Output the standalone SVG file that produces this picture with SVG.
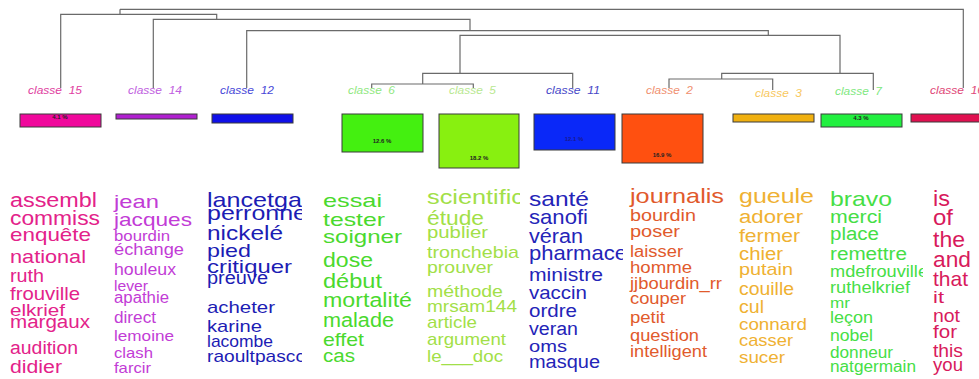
<svg xmlns="http://www.w3.org/2000/svg" width="979" height="379" viewBox="0 0 979 379">
<style>
.lbl{font-family:"Liberation Sans",Arial,sans-serif;font-style:italic;font-size:11px;white-space:pre}
.w text{font-family:"Liberation Sans",Arial,sans-serif}
.bar{stroke:#3a3a3a;stroke-width:1}
.pct{font-family:"Liberation Sans",Arial,sans-serif;font-weight:bold;font-size:6px;fill:#222;text-anchor:middle}
.den{stroke:#6a6a6a;stroke-width:1.2;fill:none}
</style>
<defs>
<clipPath id="c3"><rect x="200" y="180" width="102" height="199"/></clipPath>
<clipPath id="c5"><rect x="420" y="180" width="100" height="199"/></clipPath>
<clipPath id="c6"><rect x="525" y="180" width="98" height="199"/></clipPath>
<clipPath id="c9"><rect x="825" y="180" width="98" height="199"/></clipPath>
</defs>
<rect width="979" height="379" fill="#fff"/>
<g id="connectors" class="den">
<path d="M120,9.3H963.3V88"/>
<path d="M120,9.3V14.3"/>
<path d="M60.7,88V14.3H216.7V19.3"/>
<path d="M153.3,88V19.3H470V30.7"/>
<path d="M246.7,88V30.7H768.3V35.3"/>
<path d="M460,73.3V35.3H840V73.3"/>
<path d="M422.7,84V73.3H572.7V88"/>
<path d="M371.7,88V84H473.3V88"/>
<path d="M721.7,79V73.3H873.3V90"/>
<path d="M669,88V79H772.7V90"/>
</g>
<g id="classe15">
<text class="lbl" x="28" y="94" fill="#e040a0" textLength="54" lengthAdjust="spacingAndGlyphs">classe  15</text>
<rect class="bar" x="20" y="114" width="81" height="13" fill="#f0089c"/>
<text class="pct" x="60" y="119">4.1 %</text>
<g class="w" fill="#e3228a">
<text x="10" y="207" font-size="20" textLength="87" lengthAdjust="spacingAndGlyphs">assembl</text>
<text x="10" y="225" font-size="20" textLength="90" lengthAdjust="spacingAndGlyphs">commiss</text>
<text x="10" y="241" font-size="19" textLength="81" lengthAdjust="spacingAndGlyphs">enquête</text>
<text x="10" y="263" font-size="19" textLength="76" lengthAdjust="spacingAndGlyphs">national</text>
<text x="10" y="282" font-size="19" textLength="34" lengthAdjust="spacingAndGlyphs">ruth</text>
<text x="10" y="300" font-size="19" textLength="70" lengthAdjust="spacingAndGlyphs">frouville</text>
<text x="10" y="316" font-size="17" textLength="55" lengthAdjust="spacingAndGlyphs">elkrief</text>
<text x="10" y="328" font-size="18" textLength="80" lengthAdjust="spacingAndGlyphs">margaux</text>
<text x="10" y="354" font-size="18" textLength="68" lengthAdjust="spacingAndGlyphs">audition</text>
<text x="10" y="373" font-size="18" textLength="52" lengthAdjust="spacingAndGlyphs">didier</text>
</g>
</g>
<g id="classe14">
<text class="lbl" x="128" y="94" fill="#c060e0" textLength="54" lengthAdjust="spacingAndGlyphs">classe  14</text>
<rect class="bar" x="116" y="114" width="81" height="5" fill="#b020d0"/>
<g class="w" fill="#c23cd6">
<text x="114" y="208" font-size="19" textLength="45" lengthAdjust="spacingAndGlyphs">jean</text>
<text x="114" y="226" font-size="19" textLength="78" lengthAdjust="spacingAndGlyphs">jacques</text>
<text x="114" y="241" font-size="15" textLength="56" lengthAdjust="spacingAndGlyphs">bourdin</text>
<text x="114" y="255" font-size="16" textLength="70" lengthAdjust="spacingAndGlyphs">échange</text>
<text x="114" y="275" font-size="16" textLength="62" lengthAdjust="spacingAndGlyphs">houleux</text>
<text x="114" y="291" font-size="15" textLength="34" lengthAdjust="spacingAndGlyphs">lever</text>
<text x="114" y="303" font-size="16" textLength="55" lengthAdjust="spacingAndGlyphs">apathie</text>
<text x="114" y="323" font-size="16" textLength="42" lengthAdjust="spacingAndGlyphs">direct</text>
<text x="114" y="341" font-size="15" textLength="60" lengthAdjust="spacingAndGlyphs">lemoine</text>
<text x="114" y="358" font-size="15" textLength="39" lengthAdjust="spacingAndGlyphs">clash</text>
<text x="114" y="373" font-size="15" textLength="37" lengthAdjust="spacingAndGlyphs">farcir</text>
</g>
</g>
<g id="classe12">
<text class="lbl" x="220" y="94" fill="#4848d8" textLength="54" lengthAdjust="spacingAndGlyphs">classe  12</text>
<rect class="bar" x="212" y="114" width="81" height="9" fill="#1010e8"/>
<g class="w" fill="#1c1cb4" clip-path="url(#c3)">
<text x="207" y="207" font-size="21" textLength="95" lengthAdjust="spacingAndGlyphs">lancetga</text>
<text x="207" y="220" font-size="20" textLength="100" lengthAdjust="spacingAndGlyphs">perronne</text>
<text x="207" y="240" font-size="21" textLength="76" lengthAdjust="spacingAndGlyphs">nickelé</text>
<text x="207" y="257" font-size="19" textLength="44" lengthAdjust="spacingAndGlyphs">pied</text>
<text x="207" y="273" font-size="19" textLength="85" lengthAdjust="spacingAndGlyphs">critiquer</text>
<text x="207" y="284" font-size="18" textLength="61" lengthAdjust="spacingAndGlyphs">preuve</text>
<text x="207" y="313" font-size="17" textLength="68" lengthAdjust="spacingAndGlyphs">acheter</text>
<text x="207" y="332" font-size="17" textLength="55" lengthAdjust="spacingAndGlyphs">karine</text>
<text x="207" y="347" font-size="17" textLength="66" lengthAdjust="spacingAndGlyphs">lacombe</text>
<text x="207" y="362" font-size="17" textLength="98" lengthAdjust="spacingAndGlyphs">raoultpascc</text>
</g>
</g>
<g id="classe6">
<text class="lbl" x="348" y="94" fill="#90e880" textLength="47" lengthAdjust="spacingAndGlyphs">classe  6</text>
<rect class="bar" x="342" y="114" width="81" height="38" fill="#44f010"/>
<text class="pct" x="382" y="143">12.6 %</text>
<g class="w" fill="#4ad92e">
<text x="323" y="207" font-size="19" textLength="59" lengthAdjust="spacingAndGlyphs">essai</text>
<text x="323" y="226" font-size="19" textLength="62" lengthAdjust="spacingAndGlyphs">tester</text>
<text x="323" y="243" font-size="19" textLength="79" lengthAdjust="spacingAndGlyphs">soigner</text>
<text x="323" y="267" font-size="20" textLength="50" lengthAdjust="spacingAndGlyphs">dose</text>
<text x="323" y="288" font-size="20" textLength="59" lengthAdjust="spacingAndGlyphs">début</text>
<text x="323" y="307" font-size="20" textLength="89" lengthAdjust="spacingAndGlyphs">mortalité</text>
<text x="323" y="327" font-size="20" textLength="71" lengthAdjust="spacingAndGlyphs">malade</text>
<text x="323" y="346" font-size="19" textLength="41" lengthAdjust="spacingAndGlyphs">effet</text>
<text x="323" y="362" font-size="18" textLength="32" lengthAdjust="spacingAndGlyphs">cas</text>
</g>
</g>
<g id="classe5">
<text class="lbl" x="449" y="94" fill="#b8e890" textLength="47" lengthAdjust="spacingAndGlyphs">classe  5</text>
<rect class="bar" x="439" y="114" width="80" height="54" fill="#88f010"/>
<text class="pct" x="479" y="160">18.2 %</text>
<g class="w" fill="#a2df48" clip-path="url(#c5)">
<text x="427" y="204" font-size="20" textLength="97" lengthAdjust="spacingAndGlyphs">scientific</text>
<text x="427" y="225" font-size="20" textLength="57" lengthAdjust="spacingAndGlyphs">étude</text>
<text x="427" y="238" font-size="16" textLength="61" lengthAdjust="spacingAndGlyphs">publier</text>
<text x="427" y="258" font-size="17" textLength="92" lengthAdjust="spacingAndGlyphs">tronchebia</text>
<text x="427" y="273" font-size="16" textLength="66" lengthAdjust="spacingAndGlyphs">prouver</text>
<text x="427" y="297" font-size="17" textLength="76" lengthAdjust="spacingAndGlyphs">méthode</text>
<text x="427" y="312" font-size="16" textLength="90" lengthAdjust="spacingAndGlyphs">mrsam144</text>
<text x="427" y="328" font-size="17" textLength="50" lengthAdjust="spacingAndGlyphs">article</text>
<text x="427" y="345" font-size="17" textLength="79" lengthAdjust="spacingAndGlyphs">argument</text>
<text x="427" y="362" font-size="17" textLength="76" lengthAdjust="spacingAndGlyphs">le___doc</text>
</g>
</g>
<g id="classe11">
<text class="lbl" x="546" y="94" fill="#4848c8" textLength="54" lengthAdjust="spacingAndGlyphs">classe  11</text>
<rect class="bar" x="534" y="114" width="81" height="36" fill="#0a28f8"/>
<text class="pct" x="574" y="141" style="fill:#1a1a90">12.1 %</text>
<g class="w" fill="#2424b8" clip-path="url(#c6)">
<text x="529" y="206" font-size="21" textLength="60" lengthAdjust="spacingAndGlyphs">santé</text>
<text x="529" y="224" font-size="21" textLength="59" lengthAdjust="spacingAndGlyphs">sanofi</text>
<text x="529" y="243" font-size="20" textLength="54" lengthAdjust="spacingAndGlyphs">véran</text>
<text x="529" y="260" font-size="21" textLength="98" lengthAdjust="spacingAndGlyphs">pharmace</text>
<text x="529" y="281" font-size="19" textLength="74" lengthAdjust="spacingAndGlyphs">ministre</text>
<text x="529" y="299" font-size="19" textLength="58" lengthAdjust="spacingAndGlyphs">vaccin</text>
<text x="529" y="317" font-size="18" textLength="48" lengthAdjust="spacingAndGlyphs">ordre</text>
<text x="529" y="335" font-size="18" textLength="49" lengthAdjust="spacingAndGlyphs">veran</text>
<text x="529" y="352" font-size="17" textLength="38" lengthAdjust="spacingAndGlyphs">oms</text>
<text x="529" y="368" font-size="18" textLength="71" lengthAdjust="spacingAndGlyphs">masque</text>
</g>
</g>
<g id="classe2">
<text class="lbl" x="646" y="94" fill="#f09070" textLength="47" lengthAdjust="spacingAndGlyphs">classe  2</text>
<rect class="bar" x="622" y="114" width="81" height="49" fill="#ff5010"/>
<text class="pct" x="662" y="157">16.9 %</text>
<g class="w" fill="#e15a2c">
<text x="630" y="203" font-size="21" textLength="94" lengthAdjust="spacingAndGlyphs">journalis</text>
<text x="630" y="221" font-size="16" textLength="66" lengthAdjust="spacingAndGlyphs">bourdin</text>
<text x="630" y="237" font-size="16" textLength="50" lengthAdjust="spacingAndGlyphs">poser</text>
<text x="630" y="257" font-size="16" textLength="53" lengthAdjust="spacingAndGlyphs">laisser</text>
<text x="630" y="273" font-size="16" textLength="62" lengthAdjust="spacingAndGlyphs">homme</text>
<text x="630" y="289" font-size="17" textLength="92" lengthAdjust="spacingAndGlyphs">jjbourdin_rr</text>
<text x="630" y="304" font-size="16" textLength="56" lengthAdjust="spacingAndGlyphs">couper</text>
<text x="630" y="323" font-size="16" textLength="35" lengthAdjust="spacingAndGlyphs">petit</text>
<text x="630" y="341" font-size="17" textLength="69" lengthAdjust="spacingAndGlyphs">question</text>
<text x="630" y="357" font-size="16" textLength="77" lengthAdjust="spacingAndGlyphs">intelligent</text>
</g>
</g>
<g id="classe3">
<text class="lbl" x="755" y="97" fill="#f8c860" textLength="47" lengthAdjust="spacingAndGlyphs">classe  3</text>
<rect class="bar" x="733" y="114" width="81" height="8" fill="#f0b010"/>
<g class="w" fill="#efb132">
<text x="739" y="203" font-size="20" textLength="75" lengthAdjust="spacingAndGlyphs">gueule</text>
<text x="739" y="223" font-size="18" textLength="64" lengthAdjust="spacingAndGlyphs">adorer</text>
<text x="739" y="242" font-size="19" textLength="61" lengthAdjust="spacingAndGlyphs">fermer</text>
<text x="739" y="260" font-size="18" textLength="44" lengthAdjust="spacingAndGlyphs">chier</text>
<text x="739" y="275" font-size="17" textLength="54" lengthAdjust="spacingAndGlyphs">putain</text>
<text x="739" y="295" font-size="18" textLength="55" lengthAdjust="spacingAndGlyphs">couille</text>
<text x="739" y="313" font-size="18" textLength="25" lengthAdjust="spacingAndGlyphs">cul</text>
<text x="739" y="330" font-size="17" textLength="68" lengthAdjust="spacingAndGlyphs">connard</text>
<text x="739" y="346" font-size="17" textLength="54" lengthAdjust="spacingAndGlyphs">casser</text>
<text x="739" y="363" font-size="16" textLength="46" lengthAdjust="spacingAndGlyphs">sucer</text>
</g>
</g>
<g id="classe7">
<text class="lbl" x="835" y="95" fill="#80e880" textLength="47" lengthAdjust="spacingAndGlyphs">classe  7</text>
<rect class="bar" x="821" y="114" width="81" height="13" fill="#22f040"/>
<text class="pct" x="861" y="120">4.3 %</text>
<g class="w" fill="#46de46" clip-path="url(#c9)">
<text x="830" y="206" font-size="21" textLength="62" lengthAdjust="spacingAndGlyphs">bravo</text>
<text x="830" y="223" font-size="18" textLength="52" lengthAdjust="spacingAndGlyphs">merci</text>
<text x="830" y="240" font-size="18" textLength="49" lengthAdjust="spacingAndGlyphs">place</text>
<text x="830" y="260" font-size="18" textLength="77" lengthAdjust="spacingAndGlyphs">remettre</text>
<text x="830" y="277" font-size="16" textLength="98" lengthAdjust="spacingAndGlyphs">mdefrouville</text>
<text x="830" y="293" font-size="16" textLength="80" lengthAdjust="spacingAndGlyphs">ruthelkrief</text>
<text x="830" y="308" font-size="15" textLength="20" lengthAdjust="spacingAndGlyphs">mr</text>
<text x="830" y="323" font-size="16" textLength="43" lengthAdjust="spacingAndGlyphs">leçon</text>
<text x="830" y="341" font-size="16" textLength="43" lengthAdjust="spacingAndGlyphs">nobel</text>
<text x="830" y="358" font-size="16" textLength="63" lengthAdjust="spacingAndGlyphs">donneur</text>
<text x="830" y="372" font-size="16" textLength="86" lengthAdjust="spacingAndGlyphs">natgermain</text>
</g>
</g>
<g id="classe16">
<text class="lbl" x="930" y="94" fill="#e04878" textLength="54" lengthAdjust="spacingAndGlyphs">classe  16</text>
<rect class="bar" x="911" y="114" width="81" height="8" fill="#e01050"/>
<g class="w" fill="#d81a5c">
<text x="933" y="206" font-size="22" textLength="17" lengthAdjust="spacingAndGlyphs">is</text>
<text x="933" y="225" font-size="22" textLength="20" lengthAdjust="spacingAndGlyphs">of</text>
<text x="933" y="247" font-size="22" textLength="32" lengthAdjust="spacingAndGlyphs">the</text>
<text x="933" y="267" font-size="22" textLength="38" lengthAdjust="spacingAndGlyphs">and</text>
<text x="933" y="286" font-size="21" textLength="35" lengthAdjust="spacingAndGlyphs">that</text>
<text x="933" y="303" font-size="17" textLength="11" lengthAdjust="spacingAndGlyphs">it</text>
<text x="933" y="322" font-size="18" textLength="27" lengthAdjust="spacingAndGlyphs">not</text>
<text x="933" y="338" font-size="18" textLength="24" lengthAdjust="spacingAndGlyphs">for</text>
<text x="933" y="357" font-size="18" textLength="30" lengthAdjust="spacingAndGlyphs">this</text>
<text x="933" y="371" font-size="18" textLength="30" lengthAdjust="spacingAndGlyphs">you</text>
</g>
</g>
</svg>
